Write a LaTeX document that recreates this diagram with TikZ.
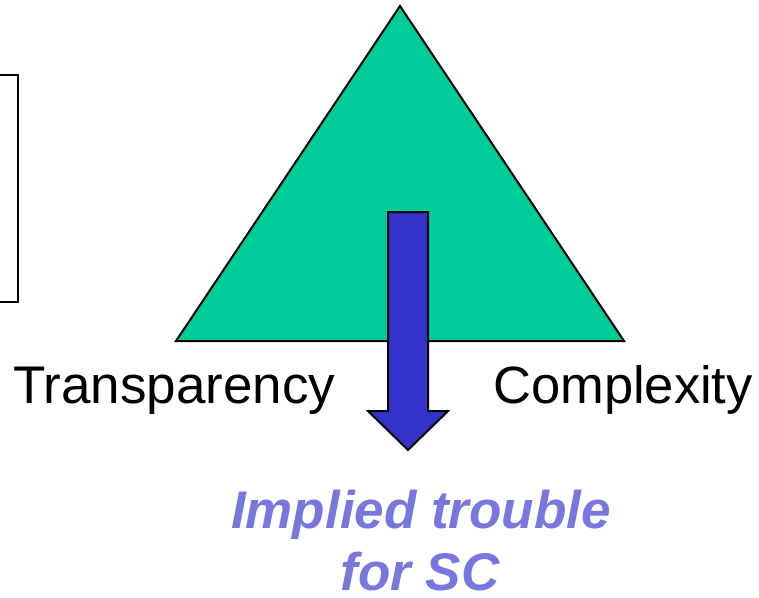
\documentclass[tikz,border=0pt]{standalone}
\usepackage{fontspec}
\setmainfont{Liberation Sans}
\definecolor{trigreen}{HTML}{00CC99}
\definecolor{arrowblue}{HTML}{3333CC}
\definecolor{notecol}{HTML}{7777DD}
\begin{document}
\begin{tikzpicture}[x=1pt,y=-1pt,
  outline/.style={draw=black,line width=2pt,line join=miter},
  label/.style={inner sep=0pt,font=\fontsize{53}{60}\selectfont},
  note/.style={inner sep=0pt,text=notecol,font=\fontsize{53}{60}\selectfont\bfseries\itshape}]
\useasboundingbox (0,0) rectangle (759,597);
% partial box on the left
\draw[outline] (0,75) -- (18,75) -- (18,302) -- (0,302);
% triangle
\coordinate (apex) at (400,6);
\coordinate (bl) at (176,341);
\coordinate (br) at (624,341);
\draw[outline,fill=trigreen] (apex) -- (bl) -- (br) -- cycle;
% arrow
\draw[outline,fill=arrowblue] (388,212) -- (428,212) -- (428,411) -- (448,411)
  -- (408,450) -- (368,411) -- (388,411) -- cycle;
% labels
\node[label,anchor=base west] (transp) at (13,403) {Transparency};
\node[label,anchor=base west,font=\fontsize{52.5}{60}\selectfont] (compl) at (493,403) {Complexity};
\node[note,anchor=base] (implied) at (421,528) {Implied trouble};
\node[note,anchor=base] (forsc) at (420,590) {for SC};
\end{tikzpicture}
\end{document}
